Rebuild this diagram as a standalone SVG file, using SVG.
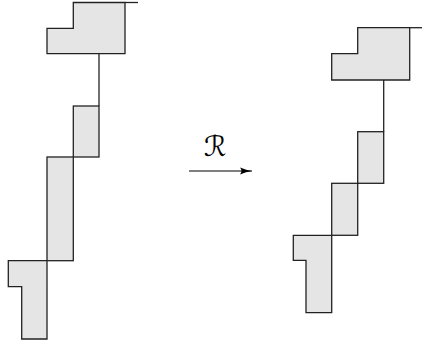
<svg xmlns="http://www.w3.org/2000/svg" width="422" height="344" viewBox="0 0 422 344">
<style>
.p{fill:#e5e5e5;stroke:#222;stroke-width:1.3;stroke-linejoin:miter}
.c{fill:none;stroke:#222;stroke-width:1.3}
.lbl{font-family:"DejaVu Sans","Noto Sans",sans-serif;font-size:28px;fill:#000}
</style>
<defs>
<marker id="ah" markerWidth="12" markerHeight="8" refX="12" refY="4" orient="auto" markerUnits="userSpaceOnUse">
<path d="M0,0.6 Q6,3.2 12,4 Q6,4.8 0,7.4 Q3,4 0,0.6 Z" fill="#000"/>
</marker>
</defs>
<rect width="422" height="344" fill="#fff"/>
<g id="connectors">
<line class="c" x1="125" y1="2.5" x2="138" y2="2.5"/>
<line class="c" x1="99" y1="53.7" x2="99" y2="106"/>
<line class="c" x1="409.7" y1="27.7" x2="422" y2="27.7"/>
<line class="c" x1="383.7" y1="80" x2="383.7" y2="131.7"/>
<line x1="189" y1="171" x2="252" y2="171" stroke="#000" stroke-width="1.2" marker-end="url(#ah)"/>
</g>
<g id="left-top"><path class="p" d="M73.3,2.5 H125 V53.7 H47 V28.3 H73.3 Z"/></g>
<g id="left-box1"><rect class="p" x="73.3" y="106" width="25.7" height="51"/></g>
<g id="left-box2"><rect class="p" x="47" y="157" width="26.3" height="103.7"/></g>
<g id="left-bottom"><path class="p" d="M8.3,260.7 H47 V339 H21.7 V286.7 H8.3 Z"/></g>
<g id="right-top"><path class="p" d="M357.7,27.7 H409.7 V80 H331.7 V53.7 H357.7 Z"/></g>
<g id="right-box1"><rect class="p" x="357.7" y="131.7" width="26" height="51.6"/></g>
<g id="right-box2"><rect class="p" x="331.7" y="183.3" width="26" height="52"/></g>
<g id="right-bottom"><path class="p" d="M293.3,235.3 H331.7 V312.7 H306 V260.3 H293.3 Z"/></g>
<g id="label"><text class="lbl" x="215" y="156" text-anchor="middle">ℛ</text></g>
</svg>
